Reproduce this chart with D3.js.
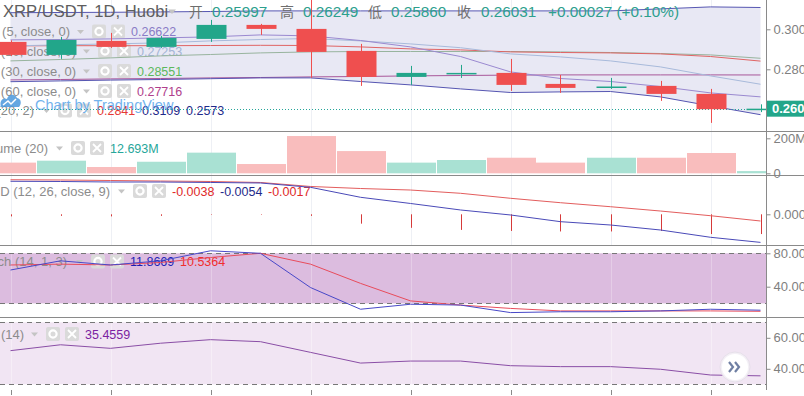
<!DOCTYPE html>
<html>
<head>
<meta charset="utf-8">
<script src="https://cdnjs.cloudflare.com/ajax/libs/d3/7.8.5/d3.min.js"></script>
<style>
  html, body { margin: 0; padding: 0; background: #fff; overflow: hidden; }
  svg { display: block; font-family: "Liberation Sans", Arial, sans-serif; }
</style>
</head>
<body>
<svg id="chart" width="804" height="396"></svg>
<script>
// bars on screen (daily, XRP/USDT Huobi)
const bars = [0, 1, 2, 3, 4, 5, 6, 7, 8, 9, 10, 11, 12, 13, 14, 15];

const open  = [0.2937, 0.2872, 0.2942, 0.2912, 0.2952, 0.3022, 0.3002, 0.2892, 0.2762, 0.2779, 0.2782, 0.2727, 0.2707, 0.2717, 0.2677, 0.25997];
const high  = [0.2945, 0.2962, 0.2982, 0.2967, 0.3047, 0.3027, 0.3170, 0.2927, 0.2817, 0.2822, 0.2852, 0.2772, 0.2757, 0.2742, 0.2702, 0.26249];
const low   = [0.2866, 0.2852, 0.2907, 0.2907, 0.2937, 0.2972, 0.2757, 0.2717, 0.2722, 0.2757, 0.2692, 0.2682, 0.2702, 0.2642, 0.2532, 0.25860];
const close = [0.2872, 0.2947, 0.2912, 0.2957, 0.3022, 0.3002, 0.2887, 0.2762, 0.2782, 0.2782, 0.2722, 0.2707, 0.2714, 0.2677, 0.26004, 0.26031];

const ma5  = [0.2947, 0.2949, 0.2952, 0.2957, 0.2962, 0.2972, 0.2967, 0.2944, 0.2912, 0.2864, 0.2787, 0.2754, 0.2739, 0.2714, 0.2682, 0.26622];
const ma10 = [0.2917, 0.2922, 0.2927, 0.2932, 0.2942, 0.2949, 0.2954, 0.2942, 0.2927, 0.2908, 0.2877, 0.2862, 0.2842, 0.2812, 0.2767, 0.27253];
const ma30 = [0.2842, 0.2849, 0.2857, 0.2867, 0.2874, 0.2882, 0.2887, 0.2889, 0.2889, 0.2889, 0.2889, 0.2887, 0.2884, 0.2879, 0.2872, 0.28551];
const ma60 = [0.2747, 0.2749, 0.2752, 0.2754, 0.2757, 0.2759, 0.2762, 0.2764, 0.2767, 0.2769, 0.2771, 0.2772, 0.2772, 0.2772, 0.2772, 0.27716];
const bbBasis = [0.2917, 0.2918, 0.2918, 0.2918, 0.2919, 0.2920, 0.2919, 0.2912, 0.2902, 0.2897, 0.2887, 0.2884, 0.2882, 0.2877, 0.2864, 0.2841];
const bbUpper = [0.3083, 0.3084, 0.3085, 0.3087, 0.3089, 0.3092, 0.3092, 0.3092, 0.3092, 0.3092, 0.3092, 0.3092, 0.3092, 0.3102, 0.3112, 0.3109];
const bbLower = [0.2738, 0.2742, 0.2746, 0.2749, 0.2753, 0.2757, 0.2757, 0.2739, 0.2722, 0.2702, 0.2684, 0.2687, 0.2689, 0.2662, 0.2617, 0.2573];

const volume = [61, 72, 36, 66, 118, 53, 213, 127, 61, 76, 89, 61, 89, 89, 116, 12.693]; // millions

const macd   = [0.00635, 0.00631, 0.00621, 0.00621, 0.00612, 0.00602, 0.00519, 0.00327, 0.00208, 0.00083, -0.00013, -0.00142, -0.00206, -0.00302, -0.00442, -0.0054];
const signal = [0.00665, 0.0066, 0.0065, 0.0064, 0.00631, 0.00612, 0.00535, 0.00496, 0.00467, 0.00404, 0.00308, 0.00223, 0.00146, 0.00063, -0.00027, -0.00129];
const hist   = [-0.0004, -0.0003, -0.0004, -0.0003, -0.0001, -0.0001, -0.0003, -0.0018, -0.0026, -0.0030, -0.0032, -0.0033, -0.0033, -0.0032, -0.0038, -0.0038];

const stochK = [60, 71, 66, 71, 83, 80, 39, 13, 19, 18, 9, 10, 10, 11, 13, 11.87];
const stochD = [66, 67, 66, 69, 75, 80, 67, 44, 23, 18, 14, 11, 11, 11, 11, 10.54];
const rsi    = [51.7, 55.5, 53.2, 56.5, 58.8, 57.5, 50.6, 43.7, 45.0, 45.0, 42.0, 41.4, 41.4, 39.7, 36.0, 35.46];

const priceTicks = [0.28, 0.30];
const volTicks = [0, 200];
const macdTicks = [0];
const stochTicks = [40, 80];
const rsiTicks = [40, 60];

const width = 804;
const height = 396;
const plotRight = 766;
const panes = {
  main:  [0, 131],
  vol:   [132, 175],
  macd:  [176, 245],
  stoch: [246, 317],
  rsi:   [318, 390]
};

const upColor = "#22a68a";
const downColor = "#ef4f4f";
const axisColor = "#8a8a8a";

const svg = d3.select("#chart");
const defs = svg.append("defs");
Object.keys(panes).forEach(k => {
  defs.append("clipPath").attr("id", "clip-" + k)
    .append("rect")
    .attr("x", 0).attr("y", panes[k][0])
    .attr("width", plotRight).attr("height", panes[k][1] - panes[k][0]);
});

const x = d3.scaleLinear().domain([0, 15]).range([10.5, 760.5]);
const candleW = 30;

const yPrice = d3.scaleLinear().domain([0.28, 0.30]).range([69.3, 29.3]);
const yVol = d3.scaleLinear().domain([0, 200]).range([173.3, 138.3]);
const yMacd = d3.scaleLinear().domain([0, -0.005]).range([214.3, 240.3]);
const yStoch = d3.scaleLinear().domain([20, 80]).range([303.4, 253.3]);
const yRsi = d3.scaleLinear().domain([30, 70]).range([384.3, 322.3]);

function paneGroup(k) {
  return svg.append("g").attr("clip-path", "url(#clip-" + k + ")");
}

function grid(g, k, color) {
  g.selectAll("line.grid")
    .data(bars.filter(i => i % 2 === 0))
    .enter().append("line")
    .attr("class", "grid")
    .attr("x1", i => Math.round(x(i)) + 0.5).attr("x2", i => Math.round(x(i)) + 0.5)
    .attr("y1", panes[k][0]).attr("y2", panes[k][1])
    .attr("stroke", color || "#eef0f5");
}

function drawLine(g, values, yScale, color, w) {
  g.append("path")
    .datum(values)
    .attr("fill", "none")
    .attr("stroke", color)
    .attr("stroke-width", w || 1)
    .attr("d", d3.line().x((d, i) => x(i)).y(d => yScale(d)));
}

function icons(g, cx, cy) {
  const gear = g.append("g");
  gear.append("rect").attr("x", cx).attr("y", cy - 7).attr("width", 14).attr("height", 14)
    .attr("rx", 2).attr("fill", "#dadada");
  gear.append("circle").attr("cx", cx + 7).attr("cy", cy).attr("r", 3.6)
    .attr("fill", "none").attr("stroke", "#fff").attr("stroke-width", 2.2);
  const xb = g.append("g");
  xb.append("rect").attr("x", cx + 19).attr("y", cy - 7).attr("width", 14).attr("height", 14)
    .attr("rx", 2).attr("fill", "#dadada");
  xb.append("path")
    .attr("d", `M${cx + 22},${cy - 4}L${cx + 30},${cy + 4}M${cx + 30},${cy - 4}L${cx + 22},${cy + 4}`)
    .attr("stroke", "#fff").attr("stroke-width", 1.8);
}

function legend(g, cy, label, labelEnd, valueX, values) {
  g.append("text")
    .attr("x", labelEnd).attr("y", cy + 4.5)
    .attr("text-anchor", "end")
    .attr("font-size", 13)
    .attr("fill", "#8c8c8c")
    .text(label);
  const tx = valueX - 54;
  g.append("path")
    .attr("d", `M${tx},${cy - 1.5}l7,0l-3.5,4z`)
    .attr("fill", "#c4c4c4");
  icons(g, valueX - 39, cy);
  values.forEach(v => {
    g.append("text")
      .attr("x", v.x).attr("y", cy + 4.5)
      .attr("font-size", 12.5)
      .attr("fill", v.color)
      .text(v.text);
  });
}

// ---------- main pane ----------
const main = paneGroup("main");
grid(main, "main");

main.append("path")
  .datum(bars)
  .attr("fill", "#e8e8f4")
  .attr("d", d3.area().x(i => x(i)).y0(i => yPrice(bbLower[i])).y1(i => yPrice(bbUpper[i])));

// header
const head = svg.append("g").attr("font-size", 15);
head.append("text").attr("x", 3).attr("y", 17).attr("font-size", 16.6).attr("fill", "#5e5e5e")
  .text("XRP/USDT, 1D, Huobi");
head.append("path").attr("d", "M168,9.5l8,0l-4,4.5z").attr("fill", "#c4c4c4");
const ohlcText = [
  { t: "开", x: 189, c: "#6e6e6e" }, { t: "0.25997", x: 212, c: "#2d9f8e" },
  { t: "高", x: 280, c: "#6e6e6e" }, { t: "0.26249", x: 303, c: "#2d9f8e" },
  { t: "低", x: 368, c: "#6e6e6e" }, { t: "0.25860", x: 391, c: "#2d9f8e" },
  { t: "收", x: 457, c: "#6e6e6e" }, { t: "0.26031", x: 481, c: "#2d9f8e" },
  { t: "+0.00027 (+0.10%)", x: 548, c: "#2d9f8e" }
];
head.selectAll("text.ohlc").data(ohlcText).enter().append("text")
  .attr("class", "ohlc")
  .attr("x", d => d.x).attr("y", 17)
  .attr("fill", d => d.c)
  .attr("font-family", d => /[\u4e00-\u9fff]/.test(d.t) ? "'Noto Sans CJK SC', sans-serif" : null)
  .attr("font-size", d => /[\u4e00-\u9fff]/.test(d.t) ? 14 : 15.3)
  .text(d => d.t);

legend(main, 31.5, "MA (5, close, 0)", 70, 131, [{ text: "0.26622", color: "#8a7cc6", x: 131 }]);
legend(main, 51, "MA (10, close, 0)", 76, 137, [{ text: "0.27253", color: "#a3b4d4", x: 137 }]);
legend(main, 71, "MA (30, close, 0)", 76, 137, [{ text: "0.28551", color: "#5cb85c", x: 137 }]);
legend(main, 91, "MA (60, close, 0)", 76, 137, [{ text: "0.27716", color: "#b03f8c", x: 137 }]);
legend(main, 110.5, "BB (20, 2)", 34, 97, [
  { text: "0.2841", color: "#e53935", x: 97 },
  { text: "0.3109", color: "#1f2a8a", x: 142 },
  { text: "0.2573", color: "#1f2a8a", x: 186 }
]);

// watermark
const wm = main.append("g").attr("opacity", 0.85);
wm.append("path")
  .attr("d", "M1,107 C-1,101 3,97 7,99 C8,94 15,93 17,98 C21,98 22,104 19,107 Z")
  .attr("fill", "#4a98dc");
wm.append("path")
  .attr("d", "M3,105 L8,101 L11,104 L16,99")
  .attr("fill", "none").attr("stroke", "#fff").attr("stroke-width", 1.5);
wm.append("text").attr("x", 35).attr("y", 110).attr("font-size", 14.5)
  .attr("fill", "#5aa6ea").text("Chart by TradingView");

drawLine(main, ma60, yPrice, "#a8579a");
drawLine(main, ma30, yPrice, "#98b49e");
drawLine(main, bbBasis, yPrice, "#e06464");
drawLine(main, ma10, yPrice, "#a8badb");
drawLine(main, ma5, yPrice, "#9a89d0");
drawLine(main, bbUpper, yPrice, "#5656b2");
drawLine(main, bbLower, yPrice, "#5656b2");

// current price line
main.append("line")
  .attr("x1", 0).attr("x2", plotRight)
  .attr("y1", Math.round(yPrice(close[15])) + 0.5).attr("y2", Math.round(yPrice(close[15])) + 0.5)
  .attr("stroke", "#26a69a").attr("stroke-dasharray", "1,2");

const candles = main.selectAll("g.candle").data(bars).enter().append("g").attr("class", "candle");
candles.append("line")
  .attr("x1", i => Math.round(x(i)) + 0.5).attr("x2", i => Math.round(x(i)) + 0.5)
  .attr("y1", i => yPrice(high[i])).attr("y2", i => yPrice(low[i]))
  .attr("stroke", i => close[i] >= open[i] ? upColor : downColor);
candles.append("rect")
  .attr("x", i => Math.round(x(i)) - candleW / 2 + 0.5)
  .attr("width", candleW)
  .attr("y", i => yPrice(Math.max(open[i], close[i])))
  .attr("height", i => Math.max(1.5, Math.abs(yPrice(open[i]) - yPrice(close[i]))))
  .attr("fill", i => close[i] >= open[i] ? upColor : downColor);

// ---------- volume pane ----------
const vol = paneGroup("vol");
grid(vol, "vol");
vol.selectAll("rect.vbar").data(bars).enter().append("rect")
  .attr("class", "vbar")
  .attr("x", i => Math.round(x(i)) - 24)
  .attr("width", 49)
  .attr("y", i => yVol(volume[i]))
  .attr("height", i => yVol(0) - yVol(volume[i]))
  .attr("fill", i => close[i] >= open[i] ? "#a9e1d3" : "#f9bdbd");
legend(vol, 148, "Volume (20)", 48, 110, [{ text: "12.693M", color: "#26a69a", x: 110 }]);

// ---------- MACD pane ----------
const mp = paneGroup("macd");
grid(mp, "macd");
legend(mp, 191, "MACD (12, 26, close, 9)", 110, 172, [
  { text: "-0.0038", color: "#e02a2a", x: 172 },
  { text: "-0.0054", color: "#1f2a8a", x: 220 },
  { text: "-0.0017", color: "#e02a2a", x: 268 }
]);
mp.selectAll("line.hist").data(bars).enter().append("line")
  .attr("class", "hist")
  .attr("x1", i => Math.round(x(i)) + 0.5).attr("x2", i => Math.round(x(i)) + 0.5)
  .attr("y1", yMacd(0)).attr("y2", i => yMacd(hist[i]))
  .attr("stroke", "#d63a3a");
drawLine(mp, signal, yMacd, "#e35d5d");
drawLine(mp, macd, yMacd, "#4a4ab8");

// ---------- Stoch pane ----------
const sp = paneGroup("stoch");
sp.append("rect")
  .attr("x", 0).attr("width", plotRight)
  .attr("y", yStoch(80)).attr("height", yStoch(20) - yStoch(80))
  .attr("fill", "#dcbcdf");
grid(sp, "stoch", "rgba(255,255,255,0.25)");
[80, 20].forEach(v => {
  sp.append("line").attr("x1", 0).attr("x2", plotRight)
    .attr("y1", Math.round(yStoch(v)) + 0.5).attr("y2", Math.round(yStoch(v)) + 0.5)
    .attr("stroke", "#777").attr("stroke-dasharray", "5,4");
});
legend(sp, 261.5, "Stoch (14, 1, 3)", 67, 130, [
  { text: "11.8669", color: "#1c1cb4", x: 130 },
  { text: "10.5364", color: "#f02e2e", x: 180 }
]);
drawLine(sp, stochD, yStoch, "#e84c5c");
drawLine(sp, stochK, yStoch, "#4848c8");

// ---------- RSI pane ----------
const rp = paneGroup("rsi");
rp.append("rect")
  .attr("x", 0).attr("width", plotRight)
  .attr("y", yRsi(70)).attr("height", yRsi(30) - yRsi(70))
  .attr("fill", "#f1e5f3");
grid(rp, "rsi", "rgba(255,255,255,0.35)");
[70, 30].forEach(v => {
  rp.append("line").attr("x1", 0).attr("x2", plotRight)
    .attr("y1", Math.round(yRsi(v)) + 0.5).attr("y2", Math.round(yRsi(v)) + 0.5)
    .attr("stroke", "#777").attr("stroke-dasharray", "5,4");
});
legend(rp, 334, "RSI (14)", 24, 85, [{ text: "35.4559", color: "#7b1fa2", x: 85 }]);
drawLine(rp, rsi, yRsi, "#8a4ea6");

// scroll button
const btn = svg.append("g");
btn.append("circle").attr("cx", 735).attr("cy", 367).attr("r", 15)
  .attr("fill", "#f4f0f6").attr("stroke", "#e6e0ea");
btn.append("circle").attr("cx", 735).attr("cy", 367).attr("r", 13).attr("fill", "#fff");
btn.append("path")
  .attr("d", "M729,362 L733,367 L729,372 M735,362 L739,367 L735,372")
  .attr("fill", "none").attr("stroke", "#6f7fa3").attr("stroke-width", 2.2);

// ---------- separators and axes ----------
[131, 175, 245, 317].forEach(y => {
  svg.append("line").attr("x1", 0).attr("x2", width)
    .attr("y1", y + 0.5).attr("y2", y + 0.5)
    .attr("stroke", axisColor);
});
svg.append("line").attr("x1", plotRight + 0.5).attr("x2", plotRight + 0.5)
  .attr("y1", 0).attr("y2", 390).attr("stroke", axisColor);

function rightAxis(scale, ticks, fmt) {
  const g = svg.append("g")
    .attr("transform", `translate(${plotRight + 0.5},0)`)
    .call(d3.axisRight(scale).tickValues(ticks).tickFormat(fmt).tickSize(4).tickPadding(3));
  g.select(".domain").remove();
  g.selectAll(".tick line").attr("stroke", axisColor);
  g.selectAll(".tick text")
    .attr("fill", "#808080")
    .attr("font-size", 13)
    .attr("font-family", "'Liberation Sans', Arial, sans-serif");
}
rightAxis(yPrice, priceTicks, d3.format(".3f"));
rightAxis(yVol, volTicks, d => d === 0 ? "0" : d + "M");
rightAxis(yMacd, macdTicks, d3.format(".3f"));
rightAxis(yStoch, stochTicks, d3.format(".2f"));
rightAxis(yRsi, rsiTicks, d3.format(".2f"));

// last price label
const ly = yPrice(close[15]);
svg.append("rect").attr("x", plotRight + 1).attr("y", ly - 8).attr("width", 40).attr("height", 16)
  .attr("fill", upColor);
svg.append("text").attr("x", plotRight + 6).attr("y", ly + 4.5)
  .attr("font-size", 13).attr("font-weight", "bold").attr("fill", "#fff")
  .text(d3.format(".4f")(close[15]));

// time axis ticks
svg.selectAll("line.xtick").data(bars.filter(i => i % 2 === 0)).enter().append("line")
  .attr("class", "xtick")
  .attr("x1", i => Math.round(x(i)) + 0.5).attr("x2", i => Math.round(x(i)) + 0.5)
  .attr("y1", 390).attr("y2", 395)
  .attr("stroke", axisColor);
</script>
</body>
</html>
